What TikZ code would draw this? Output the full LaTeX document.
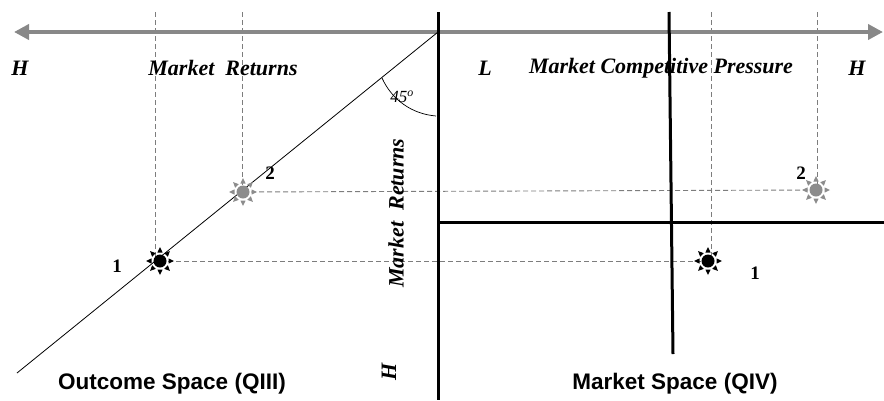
\documentclass[tikz,border=0pt]{standalone}
\usepackage{fontspec}
\setmainfont{Liberation Serif}
\newfontfamily\arialb{Liberation Sans}
\usetikzlibrary{arrows.meta}
\definecolor{axgray}{RGB}{136,136,136}
\definecolor{dgray}{RGB}{125,125,125}
\definecolor{stargray}{RGB}{140,140,140}
\begin{document}
\begin{tikzpicture}[x=1pt,y=-1pt,
  dashline/.style={draw=dgray, line width=0.9pt, dash pattern=on 5pt off 3pt},
  heavy/.style={line width=3pt, black},
  axisline/.style={line width=4.5pt, draw=axgray, {Triangle[length=15pt,width=15pt]}-{Triangle[length=15pt,width=15pt]}},
  lbl/.style={font=\fontsize{22}{25}\selectfont\bfseries\itshape, inner sep=0},
  qlbl/.style={font=\arialb\fontsize{22.5}{25}\selectfont\bfseries, inner sep=0},
  num/.style={font=\fontsize{19}{21}\selectfont\bfseries, inner sep=0},
  dot/.style={circle, inner sep=0, minimum size=13pt}
]
\useasboundingbox (0,0) rectangle (884,400);

% coordinates
\coordinate (ax1) at (14,32);
\coordinate (ax2) at (883,32);
\coordinate (v1t) at (438,12);
\coordinate (v1b) at (438,400);
\coordinate (v2t) at (669,12);
\coordinate (v2b) at (673,354);
\coordinate (hL) at (438,222);
\coordinate (hR) at (884,222);
\coordinate (o) at (438,32);
\coordinate (dend) at (17,373);
\coordinate (p1) at (160,261);
\coordinate (p2) at (243,192);
\coordinate (q1) at (708,261);
\coordinate (q2) at (816,190);
\coordinate (t1) at (155,12);
\coordinate (t2) at (242,12);
\coordinate (t3) at (711,12);
\coordinate (t4) at (817,12);
\coordinate (ar1) at (382,78);
\coordinate (ar2) at (436,116);

% dashed guides
\draw[dashline] (t1) -- (t1 |- p1);
\draw[dashline] (t2) -- (t2 |- p2);
\draw[dashline] (t3) -- (t3 |- q1);
\draw[dashline] (t4) -- (t4 |- q2);
\draw[dashline] (p2) -- (q2);
\draw[dashline] (p1) -- (q1);

% axis
\draw[axisline] (ax2) -- (ax1);
% heavy lines
\draw[heavy] (v1t) -- (v1b);
\draw[heavy] (v2t) -- (v2b);
\draw[heavy] (hL) -- (hR);
% diagonal
\draw[line width=0.8pt] (o) -- (dend);
\draw[line width=0.7pt] (ar1) .. controls (392,100) and (412,114) .. (ar2);

% stars
\foreach \pt/\col in {p1/black,q1/black,p2/stargray,q2/stargray}{
  \foreach \a in {0,45,...,315}{
    \fill[\col, shift={(\pt)}, rotate=\a] (8.5,-2.6) -- (14,0) -- (8.5,2.6) -- cycle;
  }
}
\node[dot, fill=black] (s1) at (p1) {};
\node[dot, fill=black] (s3) at (q1) {};
\node[dot, fill=stargray] (s2) at (p2) {};
\node[dot, fill=stargray] (s4) at (q2) {};

% labels
\node[lbl] (hl) at (20,68) {H};
\node[lbl] (mr) at (223,68) {Market\ \ Returns};
\node[lbl] (ll) at (485,68) {L};
\node[lbl] (mcp) at (661,68) {Market Competitive Pressure};
\node[lbl] (hr) at (857,68) {H};
\node[font=\fontsize{17}{19}\selectfont\itshape, inner sep=0] (ang) at (402,97) {45\textsuperscript{o}};
\node[lbl, rotate=90] (mrv) at (396,213) {Market\ \ Returns};
\node[lbl, rotate=90] (hv) at (389,372) {H};
\node[qlbl] (qiii) at (172,384) {Outcome Space (QIII)};
\node[qlbl] (qiv) at (675,384) {Market Space (QIV)};
\node[num] (n1) at (117,266) {1};
\node[num] (n2) at (270,173) {2};
\node[num] (n3) at (755,273) {1};
\node[num] (n4) at (801,173) {2};
\end{tikzpicture}
\end{document}
